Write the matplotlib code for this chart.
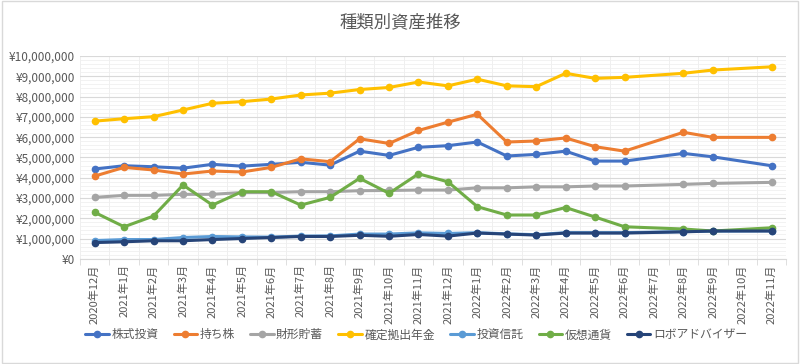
import matplotlib
matplotlib.use("Agg")
import matplotlib.pyplot as plt
from matplotlib.ticker import FuncFormatter, MultipleLocator
import numpy as np

plt.rcParams['font.family'] = ['Noto Sans CJK JP', 'DejaVu Sans']

months = ["2020年12月", "2021年1月", "2021年2月", "2021年3月", "2021年4月", "2021年5月",
          "2021年6月", "2021年7月", "2021年8月", "2021年9月", "2021年10月", "2021年11月",
          "2021年12月", "2022年1月", "2022年2月", "2022年3月", "2022年4月", "2022年5月",
          "2022年6月", "2022年7月", "2022年8月", "2022年9月", "2022年10月", "2022年11月"]

nan = np.nan
# values in yen (2022年7月 and 2022年10月 have no data)
kabushiki = [4430000, 4590000, 4540000, 4470000, 4660000, 4570000, 4660000, 4760000,
             4620000, 5310000, 5100000, 5500000, 5580000, 5760000, 5070000, 5150000,
             5310000, 4820000, 4820000, nan, 5200000, 5030000, nan, 4590000]
mochikabu = [4080000, 4510000, 4380000, 4180000, 4330000, 4280000, 4510000, 4930000,
             4790000, 5920000, 5690000, 6330000, 6740000, 7130000, 5760000, 5810000,
             5960000, 5530000, 5310000, nan, 6240000, 5990000, nan, 5990000]
zaikei = [3030000, 3130000, 3130000, 3180000, 3180000, 3270000, 3270000, 3310000,
          3310000, 3360000, 3370000, 3390000, 3390000, 3500000, 3500000, 3550000,
          3550000, 3590000, 3590000, nan, 3670000, 3720000, nan, 3770000]
kakutei = [6790000, 6910000, 7010000, 7340000, 7670000, 7750000, 7880000, 8080000,
           8170000, 8350000, 8450000, 8720000, 8530000, 8860000, 8530000, 8490000,
           9150000, 8900000, 8950000, nan, 9150000, 9310000, nan, 9470000]
toushin = [900000, 950000, 950000, 1050000, 1100000, 1080000, 1070000, 1120000,
           1130000, 1220000, 1220000, 1280000, 1250000, 1290000, 1230000, 1190000,
           1290000, 1290000, 1290000, nan, 1340000, 1370000, nan, 1380000]
kasou = [2290000, 1580000, 2110000, 3640000, 2650000, 3310000, 3310000, 2650000,
         3030000, 3970000, 3230000, 4190000, 3800000, 2570000, 2160000, 2160000,
         2530000, 2060000, 1580000, nan, 1470000, 1370000, nan, 1530000]
roboad = [800000, 840000, 890000, 890000, 950000, 1000000, 1050000, 1100000,
          1100000, 1160000, 1110000, 1200000, 1120000, 1270000, 1220000, 1170000,
          1270000, 1270000, 1270000, nan, 1330000, 1370000, nan, 1370000]

series = [("株式投資", kabushiki, "#4472C4"),
          ("持ち株", mochikabu, "#ED7D31"),
          ("財形貯蓄", zaikei, "#A5A5A5"),
          ("確定拠出年金", kakutei, "#FFC000"),
          ("投資信託", toushin, "#5B9BD5"),
          ("仮想通貨", kasou, "#70AD47"),
          ("ロボアドバイザー", roboad, "#264478")]

fig = plt.figure(figsize=(8, 3.64), dpi=100)
ax = fig.add_axes([0.1, 0.289, 0.883, 0.557])

x = np.arange(len(months))
for name, vals, col in series:
    v = np.array(vals, dtype=float)
    ok = ~np.isnan(v)
    ax.plot(x[ok], v[ok], color=col, lw=2.2, marker='o', ms=4.5, label=name,
            solid_capstyle='round')

ax.set_xlim(-0.5, len(months) - 0.5)
ax.set_ylim(0, 10000000)
ax.yaxis.set_major_locator(MultipleLocator(1000000))
ax.yaxis.set_minor_locator(MultipleLocator(200000))
ax.yaxis.set_major_formatter(FuncFormatter(lambda v, p: "¥{:,.0f}".format(v)))
ax.set_xticks(x)
ax.set_xticklabels(months, rotation=90, fontsize=8, color="#595959")
ax.set_xticks(np.arange(-0.5, len(months)), minor=True)
ax.tick_params(axis='x', which='major', length=0, pad=4)
ax.tick_params(axis='x', which='minor', length=4, color="#d9d9d9")
ax.tick_params(axis='y', which='both', length=0, labelsize=8.5, labelcolor="#595959")
ax.grid(axis='y', which='major', color="#d9d9d9", lw=0.8)
ax.grid(axis='y', which='minor', color="#f0f0f0", lw=0.6)
ax.grid(axis='x', which='minor', color="#ececec", lw=0.6)
ax.set_axisbelow(True)
for s in ["top", "right", "left"]:
    ax.spines[s].set_visible(False)
ax.spines["bottom"].set_color("#d9d9d9")

fig.text(0.5, 0.94, "種類別資産推移", ha='center', va='center', fontsize=12.5, color="#595959")
fig.legend(loc='center', bbox_to_anchor=(0.52, 0.08), ncol=7, frameon=False,
           fontsize=8.5, handlelength=2.0, columnspacing=1.3, handletextpad=0.2,
           labelcolor="#595959")

fig.patches.append(plt.Rectangle((0.002, 0.003), 0.996, 0.994, transform=fig.transFigure,
                                 fill=False, edgecolor="#d9d9d9", lw=1))

fig.savefig("out.png", dpi=100)
